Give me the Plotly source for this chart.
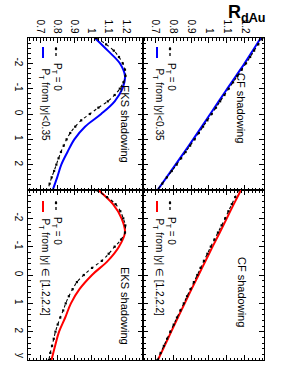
import plotly.graph_objects as go

W, H = 285, 382

# ---------------- data ----------------
rap_fine = [-3.0, -2.75, -2.5, -2.25, -2.0, -1.75, -1.5, -1.25, -1.0, -0.75, -0.5, -0.25,
            0.0, 0.25, 0.5, 0.75, 1.0, 1.25, 1.5, 1.75, 2.0, 2.25, 2.5, 2.75, 3.0]
rap_coarse = [-3.0, -2.5, -2.0, -1.5, -1.0, -0.5, 0.0, 0.5, 1.0, 1.5, 2.0, 2.5, 3.0]

# EKS shadowing, P_T = 0 (panel with |y|<0.35 comparison)
eks_pt0_a = [1.026, 1.085, 1.13, 1.16, 1.182, 1.195, 1.198, 1.186, 1.165, 1.135, 1.095, 1.04,
             0.99, 0.94, 0.905, 0.876, 0.855, 0.838, 0.822, 0.808, 0.795, 0.782, 0.768, 0.756, 0.745]
# EKS shadowing, P_T from |y|<0.35
eks_mid = [1.02, 1.095, 1.165, 1.195, 1.18, 1.135, 1.056, 0.962, 0.9, 0.86, 0.824, 0.80, 0.774]
# EKS shadowing, P_T = 0 (panel with |y| in [1.2,2.2] comparison)
eks_pt0_b = [1.026, 1.09, 1.14, 1.168, 1.185, 1.197, 1.195, 1.172, 1.135, 1.10, 1.06, 1.003,
             0.955, 0.915, 0.89, 0.868, 0.85, 0.835, 0.818, 0.803, 0.79, 0.78, 0.77, 0.76, 0.752]
# EKS shadowing, P_T from |y| in [1.2,2.2]
eks_fwd = [1.039, 1.125, 1.175, 1.195, 1.16, 1.095, 1.003, 0.93, 0.88, 0.847, 0.811, 0.788, 0.767]

# CF shadowing, P_T = 0
cf_pt0_a = [1.297, 1.274, 1.251, 1.229, 1.206, 1.182, 1.158, 1.134, 1.110, 1.086, 1.062, 1.039,
            1.015, 0.991, 0.967, 0.944, 0.920, 0.895, 0.870, 0.845, 0.820, 0.793, 0.766, 0.740, 0.713]
cf_mid = [1.288, 1.243, 1.198, 1.150, 1.102, 1.054, 1.007, 0.960, 0.912, 0.863, 0.814, 0.764, 0.714]
cf_pt0_b = [1.165, 1.146, 1.127, 1.108, 1.09, 1.07, 1.05, 1.03, 1.01, 0.991, 0.972, 0.953,
            0.935, 0.916, 0.897, 0.878, 0.86, 0.841, 0.822, 0.804, 0.785, 0.767, 0.749, 0.731, 0.713]
cf_fwd = [1.178, 1.138, 1.099, 1.06, 1.02, 0.981, 0.942, 0.903, 0.865, 0.827, 0.79, 0.753, 0.716]

r_tickvals = [0.7, 0.8, 0.9, 1.0, 1.1, 1.2]
r_ticktext = ["0.7", "0.8", "0.9", "1", "1.1", "1.2"]
y_tickvals = [-2, -1, 0, 1, 2]
y_ticktext = ["-2", "-1", "0", "1", "2"]

panel_titles = ["EKS shadowing", "CF shadowing", "EKS shadowing", "CF shadowing"]
leg_pt0 = "P<sub>T</sub> = 0"
leg_mid = "P<sub>T</sub> from |y|<0.35"
leg_fwd = "P<sub>T</sub> from |y| \u2208 [1.2,2.2]"

FONT = "Liberation Sans, Arial, Helvetica, sans-serif"

def px(x):
    return x / W

def py(y):
    return 1 - y / H

colL = [px(28), px(143)]
colR = [px(143), px(264)]
rowT = [py(190), py(38)]
rowB = [py(360), py(190)]
xrangeL = [0.63, 1.30]
xrangeR = [0.633, 1.306]

fig = go.Figure()

def black(x, y, ax):
    fig.add_trace(go.Scatter(x=x, y=y, xaxis="x" + ax, yaxis="y" + ax, mode="lines+markers",
                             line=dict(color="black", width=1.1, dash="dot", shape="spline"),
                             marker=dict(color="black", size=2.2, symbol="square"),
                             showlegend=False, hoverinfo="skip"))

def colored(x, y, ax, c):
    fig.add_trace(go.Scatter(x=x, y=y, xaxis="x" + ax, yaxis="y" + ax, mode="lines",
                             line=dict(color=c, width=2, shape="spline"),
                             showlegend=False, hoverinfo="skip"))

colored(eks_mid, rap_coarse, "", "#0000ff")
black(eks_pt0_a, rap_fine, "")
colored(cf_mid, rap_coarse, "2", "#0000ff")
black(cf_pt0_a, rap_fine, "2")
colored(eks_fwd, rap_coarse, "3", "#ff0000")
black(eks_pt0_b, rap_fine, "3")
colored(cf_fwd, rap_coarse, "4", "#ff0000")
black(cf_pt0_b, rap_fine, "4")

tickfont = dict(family=FONT, size=10, color="black")

def xax(dom, anchor, rng, labels):
    return dict(domain=dom, anchor=anchor, range=rng, side="top",
                tickmode="array", tickvals=r_tickvals, ticktext=r_ticktext,
                showticklabels=labels, tickangle=90, tickfont=tickfont,
                ticks="inside", ticklen=5, tickwidth=1, tickcolor="black",
                minor=dict(ticks="inside", ticklen=2.5, tick0=0.7, dtick=0.02, tickcolor="black", tickwidth=1),
                showline=True, linecolor="black", linewidth=1, mirror="allticks",
                showgrid=False, zeroline=False, fixedrange=True)

def yax(dom, anchor, labels):
    return dict(domain=dom, anchor=anchor, range=[3, -3],
                tickmode="array", tickvals=y_tickvals, ticktext=y_ticktext,
                showticklabels=labels, tickangle=90, tickfont=tickfont,
                ticks="inside", ticklen=5, tickwidth=1, tickcolor="black",
                minor=dict(ticks="inside", ticklen=2.5, tick0=0, dtick=0.2, tickcolor="black", tickwidth=1),
                showline=True, linecolor="black", linewidth=1, mirror="allticks",
                showgrid=False, zeroline=False, fixedrange=True)

annotations = []
shapes = []

def text(x, y, s, size, angle=90):
    annotations.append(dict(x=px(x), y=py(y), xref="paper", yref="paper", text=s,
                            showarrow=False, textangle=angle, xanchor="center", yanchor="middle",
                            font=dict(family=FONT, size=size, color="black")))

# panel titles
text(125, 124, panel_titles[0], 11)
text(241, 108, panel_titles[1], 11)
text(125, 306, panel_titles[2], 11)
text(242, 292, panel_titles[3], 11)

def legend(x0, y0, y_top_text, color, label2, len2):
    # black sample
    shapes.append(dict(type="line", xref="paper", yref="paper", x0=px(x0 + 13), x1=px(x0 + 13),
                       y0=py(y0), y1=py(y0 + 11), line=dict(color="black", width=1.3, dash="dot")))
    shapes.append(dict(type="rect", xref="paper", yref="paper", x0=px(x0 + 11.9), x1=px(x0 + 14.1),
                       y0=py(y0 + 1), y1=py(y0 + 3.2), fillcolor="black", line=dict(width=0)))
    # colored sample
    shapes.append(dict(type="line", xref="paper", yref="paper", x0=px(x0), x1=px(x0),
                       y0=py(y0), y1=py(y0 + 11), line=dict(color=color, width=2)))
    text(x0 + 14, y_top_text + 16, leg_pt0, 10)
    text(x0 + 1.5, y_top_text + len2 / 2, label2, 10)

legend(43, 47, 61, "#0000ff", leg_mid, 86)
legend(157, 47, 61, "#0000ff", leg_mid, 86)
legend(43, 201, 215, "#ff0000", leg_fwd, 104)
legend(157, 201, 215, "#ff0000", leg_fwd, 104)

# axis titles
annotations.append(dict(x=px(246), y=py(13), xref="paper", yref="paper",
                        text="<b>R</b><sub><b>dAu</b></sub>", showarrow=False,
                        xanchor="center", yanchor="middle",
                        font=dict(family=FONT, size=18, color="black")))
text(21, 356, "y", 10)

fig.update_layout(
    width=W, height=H, margin=dict(l=0, r=0, t=0, b=0),
    paper_bgcolor="white", plot_bgcolor="white",
    xaxis=xax(colL, "y", xrangeL, True),
    yaxis=yax(rowT, "x", True),
    xaxis2=xax(colR, "y2", xrangeR, True),
    yaxis2=yax(rowT, "x2", False),
    xaxis3=xax(colL, "y3", xrangeL, False),
    yaxis3=yax(rowB, "x3", True),
    xaxis4=xax(colR, "y4", xrangeR, False),
    yaxis4=yax(rowB, "x4", False),
    annotations=annotations, shapes=shapes,
    showlegend=False,
)

fig.write_html("out.html", config={"displayModeBar": False, "staticPlot": True},
               post_script="document.body.style.margin='0px';")
